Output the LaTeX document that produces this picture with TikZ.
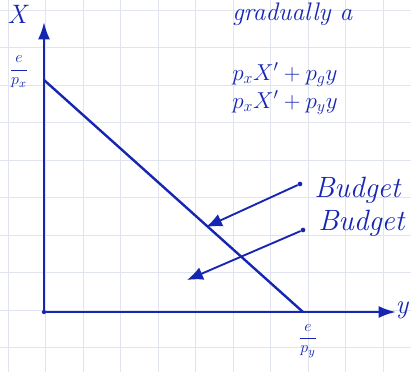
\documentclass[tikz,border=0pt]{standalone}
\usetikzlibrary{arrows.meta}
\definecolor{ink}{RGB}{22,38,178}
\definecolor{gridc}{RGB}{224,228,238}
\begin{document}
\begin{tikzpicture}[x=0.75pt,y=-0.75pt,
  axis/.style={ink,line width=1.9pt,-{Latex[length=13pt,width=9pt]}},
  bline/.style={ink,line width=1.8pt},
  pointer/.style={ink,line width=1.4pt,-{Latex[length=12pt,width=10pt]}},
  lab/.style={ink,inner sep=0pt,font=\itshape},
  dotc/.style={circle,fill=ink,inner sep=0pt,minimum size=3.5pt}]
\useasboundingbox (0,0) rectangle (411,372);
\clip (0,0) rectangle (411,372);
\fill[white] (0,0) rectangle (411,372);
\foreach \gx in {8,45.5,...,411} \draw[gridc,line width=0.5pt] (\gx,0) -- (\gx,372);
\foreach \gy in {10,47.5,...,372} \draw[gridc,line width=0.5pt] (0,\gy) -- (411,\gy);
% axes
\coordinate (O) at (44,312);
\coordinate (Yt) at (44,22);
\coordinate (Xe) at (396,312);
\draw[axis] (O) -- (Yt);
\draw[axis] (O) -- (Xe);
\fill[ink] (O) circle (1.6pt);
% budget line
\coordinate (A) at (44,80);
\coordinate (B) at (303,312);
\draw[bline] (A) -- (B);
% pointers
\node[dotc] (d1) at (300,184) {};
\node[dotc] (d2) at (303,230) {};
\coordinate (t1) at (206,227);
\coordinate (t2) at (187,280);
\draw[pointer] (d1) -- (t1);
\draw[pointer] (d2) -- (t2);
% labels
\node[lab,font=\fontsize{20}{22}\selectfont\itshape] (lx) at (17,14) {X};
\node[lab,font=\fontsize{20}{22}\selectfont\itshape] (ly) at (402,310) {y};
\node[lab,font=\fontsize{13}{14}\selectfont] (fx) at (19,72) {$\displaystyle\frac{e}{p_x}$};
\node[lab,font=\fontsize{13}{14}\selectfont] (fy) at (308,341) {$\displaystyle\frac{e}{p_y}$};
\node[lab,anchor=base west,font=\fontsize{19}{21}\selectfont\itshape] (g) at (232,20) {gradually a};
\node[lab,anchor=base west,font=\fontsize{18}{20}\selectfont] (e1) at (232,80) {$p_x X' + p_g y$};
\node[lab,anchor=base west,font=\fontsize{18}{20}\selectfont] (e2) at (232,108) {$p_x X' + p_y y$};
\node[lab,anchor=base west,font=\fontsize{22}{24}\selectfont\itshape] (b1) at (314,197) {Budget};
\node[lab,anchor=base west,font=\fontsize{22}{24}\selectfont\itshape] (b2) at (318,230) {Budget};
\end{tikzpicture}
\end{document}
